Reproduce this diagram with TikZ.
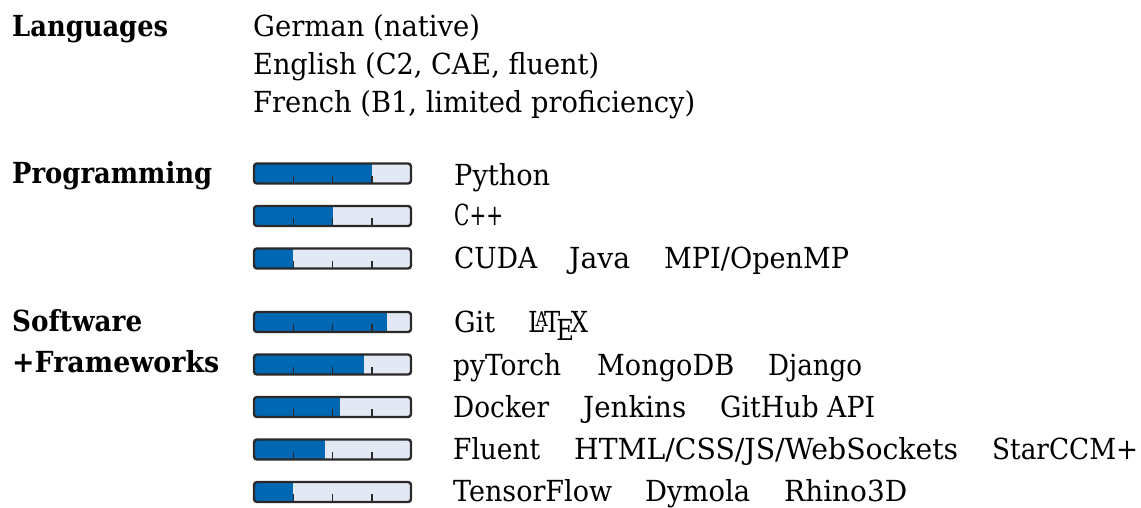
\documentclass[tikz,border=0pt]{standalone}
\usepackage{fontspec}
\setmainfont{DejaVu Serif}
\usetikzlibrary{calc}
\definecolor{barblue}{HTML}{0068B3}
\definecolor{barlight}{HTML}{E2E8F4}
\definecolor{barline}{HTML}{2A2A2A}
\newcommand\fw[2]{\resizebox{#1pt}{\height}{#2}}
\tikzset{
  head/.style={anchor=base west, inner sep=0pt, font=\fontsize{29}{34}\selectfont\bfseries},
  txt/.style={anchor=base west, inner sep=0pt, font=\fontsize{29}{34}\selectfont},
  barbox/.style={draw=none, fill=none, inner sep=0pt, outer sep=0pt, minimum width=157pt, minimum height=20pt},
  barfillst/.style={fill=barblue},
  barbg/.style={fill=barlight},
  tickst/.style={draw=barline, line width=1.5pt},
  barborder/.style={draw=barline, line width=2.4pt, rounded corners=3pt},
}
\newcommand\skillbar[3]{%
  \node[barbox] (#1) at (332.5,#2) {};
  \fill[barbg, rounded corners=3pt] (#1.south west) rectangle (#1.north east);
  \begin{scope}
    \clip[rounded corners=3pt] (#1.south west) rectangle (#1.north east);
    \fill[barfillst] (#1.south west) rectangle ($(#1.north west)!#3!(#1.north east)$);
  \end{scope}
  \foreach \k in {0.25,0.5,0.75}
    \draw[tickst] ($(#1.south west)!\k!(#1.south east)$) -- ++(0,-8);
  \draw[barborder] (#1.south west) rectangle (#1.north east);
}
\begin{document}
\begin{tikzpicture}[x=1pt,y=-1pt]
\useasboundingbox (0,0) rectangle (1141,507);
% Languages
\node[head] (lang) at (12,36.5) {\fw{156}{Languages}};
\node[txt] (ger) at (253,36.5) {\fw{227}{German (native)}};
\node[txt] (eng) at (253,74.2) {\fw{346}{English (C2, CAE, fluent)}};
\node[txt] (fre) at (253,112) {\fw{442}{French (B1, limited proficiency)}};
% Programming
\node[head] (prog) at (12,183.5) {\fw{200}{Programming}};
\skillbar{b1}{173.5}{0.75}
\skillbar{b2}{216}{0.5}
\skillbar{b3}{258.5}{0.25}
\node[txt] (py) at (454,185) {\fw{96}{Python}};
\node[txt] (cpp) at (454,225) {\fw{49}{C++}};
\node[txt] (cuda) at (454,268) {\fw{83}{CUDA}};
\node[txt] (java) at (569,268) {\fw{61}{Java}};
\node[txt] (mpi) at (664,268) {\fw{185}{MPI/OpenMP}};
% Software
\node[head] (soft) at (12,331) {\fw{130}{Software}};
\node[head] (fw) at (12,372.5) {\fw{207}{+Frameworks}};
\skillbar{b4}{322}{0.85}
\skillbar{b5}{364.5}{0.7}
\skillbar{b6}{407}{0.55}
\skillbar{b7}{449.5}{0.45}
\skillbar{b8}{492}{0.25}
\node[txt] (git) at (454,332.5) {\fw{41}{Git}};
\node[txt] (latex) at (528,332.5) {\fw{60}{\LaTeX}};
\node[txt] (torch) at (453,375) {\fw{108}{pyTorch}};
\node[txt] (mongo) at (597,375) {\fw{137}{MongoDB}};
\node[txt] (django) at (768,375) {\fw{94}{Django}};
\node[txt] (docker) at (453,417) {\fw{96}{Docker}};
\node[txt] (jenkins) at (583,417) {\fw{103}{Jenkins}};
\node[txt] (github) at (720,417) {\fw{155}{GitHub API}};
\node[txt] (fluent) at (453,459.5) {\fw{87}{Fluent}};
\node[txt] (html) at (574,459.5) {\fw{384}{HTML/CSS/JS/WebSockets}};
\node[txt] (star) at (992,459.5) {\fw{146}{StarCCM+}};
\node[txt] (tf) at (453,501.5) {\fw{159}{TensorFlow}};
\node[txt] (dymola) at (645,501.5) {\fw{105}{Dymola}};
\node[txt] (rhino) at (784,501.5) {\fw{123}{Rhino3D}};
\end{tikzpicture}
\end{document}
